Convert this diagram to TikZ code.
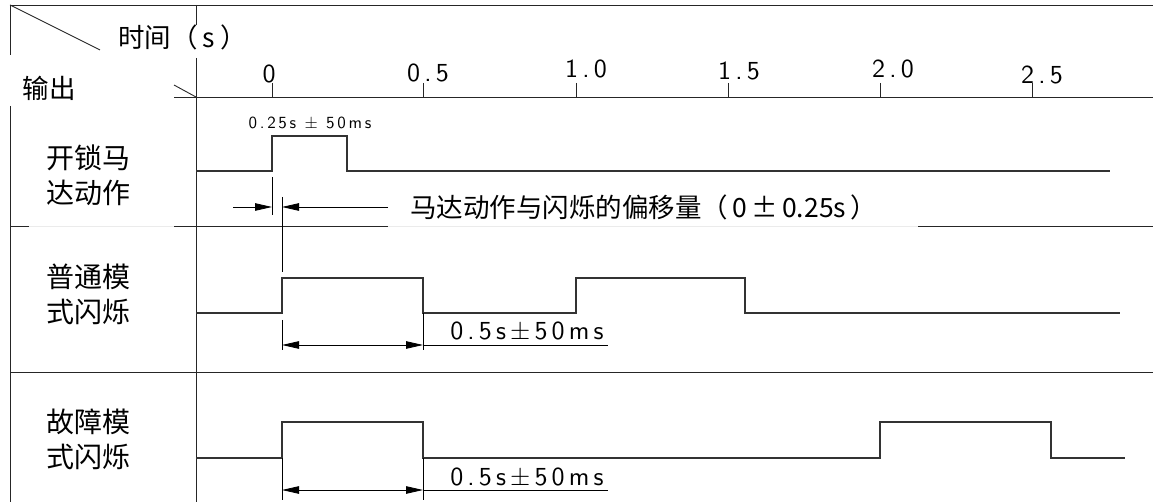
\documentclass[tikz,border=0pt]{standalone}
\usepackage{fontspec}
\newfontfamily\cjk{Noto Sans CJK SC}
\newfontfamily\cad[LetterSpace=16]{lmsans10-regular.otf}
\usetikzlibrary{arrows.meta}
\begin{document}
\begin{tikzpicture}[x=1pt,y=-1pt,
  frame/.style={line width=0.9pt,black!85},
  faint/.style={line width=0.9pt,black!8},
  wave/.style={line width=1.1pt,black!80,line join=miter},
  dim/.style={line width=0.8pt,black},
  tip/.style={-{Triangle[length=17pt,width=7.5pt,fill=black]}},
  tips/.style={{Triangle[length=17pt,width=7.5pt,fill=black]}-{Triangle[length=17pt,width=7.5pt,fill=black]}},
  cjklabel/.style={font=\cjk\fontsize{26.5}{34}\selectfont,align=center,inner sep=0pt},
  rowlabel/.style={font=\cjk\fontsize{28}{35}\selectfont,align=center,inner sep=0pt},
  cadlabel/.style={font=\cad\fontsize{26}{26}\selectfont,inner sep=0pt},
  smalllabel/.style={font=\cad\fontsize{17}{17}\selectfont,inner sep=0pt}
]
\useasboundingbox (0,0) rectangle (1153,502);

% frame
\coordinate (tl) at (10,5);
\coordinate (tr) at (1153,5);
\coordinate (dg) at (100,50);
\draw[frame] (tl) -- (tr);
\draw[frame] (tl) -- (dg);
\draw[frame] (10,5) -- (10,55);
\draw[frame] (10,106) -- (10,502);
\draw[frame] (196,5) -- (196,25);
\draw[frame] (196,58) -- (196,502);
\draw[frame] (174,85) -- (196,97);
\draw[frame] (174,97) -- (1153,97);
% row separators
\draw[frame] (10,226) -- (29,226);
\draw[faint] (29,226) -- (174,226);
\draw[frame] (174,226) -- (388,226);
\draw[faint] (388,226) -- (918,226);
\draw[frame] (918,226) -- (1153,226);
\draw[frame] (10,372) -- (1153,372);

% header texts
\node[cjklabel,anchor=west] (timelbl) at (118,37) {时间（\hspace{5pt}s\hspace{5pt}）};
\node[cjklabel] (outlbl) at (49,88) {输出};

% time axis ticks
\foreach \tx/\lx/\ly/\lab in {272/269/83/0, 423/428/82/0.5, 576/586/78/1.0, 728/739/80/1.5, 880/893/78/2.0, 1032/1042/84/2.5}{
  \draw[frame] (\tx,83) -- (\tx,97);
  \node[cadlabel,anchor=south] at (\lx,\ly) {\lab};
}

% row labels
\node[rowlabel] (r1) at (88,175) {开锁马\\达动作};
\node[rowlabel] (r2) at (88,294.5) {普通模\\式闪烁};
\node[rowlabel] (r3) at (88,439.5) {故障模\\式闪烁};

% row 1 waveform
\draw[wave] (196,171) -- (272,171) -- (272,136) -- (347,136) -- (347,171) -- (1110,171);
\node[smalllabel] (pw1) at (310,123) {0.25s ± 50ms};

% offset dimension
\coordinate (e1a) at (272,177);
\coordinate (e1b) at (272,215);
\coordinate (e2a) at (282,197);
\coordinate (e2b) at (282,272);
\draw[dim] (e1a) -- (e1b);
\draw[dim] (e2a) -- (e2b);
\coordinate (o1) at (233,207);
\coordinate (o2) at (272,207);
\coordinate (o3) at (388,207);
\coordinate (o4) at (282,207);
\draw[dim,tip] (o1) -- (o2);
\draw[dim,tip] (o3) -- (o4);
\node[cjklabel,anchor=west] (offlbl) at (410,207) {马达动作与闪烁的偏移量（\hspace{4pt}0\,±\,0.25s\hspace{4pt}）};

% row 2 waveform
\draw[wave] (196,313) -- (282,313) -- (282,278) -- (423,278) -- (423,313) -- (576,313) -- (576,278) -- (745,278) -- (745,313) -- (1120,313);
\draw[dim] (282,320) -- (282,350);
\draw[dim] (423,313) -- (423,350);
\coordinate (a2l) at (282,345);
\coordinate (a2r) at (423,345);
\coordinate (a2e) at (608,345);
\draw[dim,tips] (a2l) -- (a2r);
\draw[dim] (a2r) -- (a2e);
\node[cadlabel] (pw2) at (527,331) {0.5s±50ms};

% row 3 waveform
\draw[wave] (196,458) -- (282,458) -- (282,422) -- (423,422) -- (423,458) -- (880,458) -- (880,422) -- (1051,422) -- (1051,458) -- (1125,458);
\draw[dim] (282,458) -- (282,500);
\draw[dim] (423,458) -- (423,500);
\coordinate (a3l) at (282,490);
\coordinate (a3r) at (423,490);
\coordinate (a3e) at (608,490);
\draw[dim,tips] (a3l) -- (a3r);
\draw[dim] (a3r) -- (a3e);
\node[cadlabel] (pw3) at (527,477) {0.5s±50ms};
\end{tikzpicture}
\end{document}
